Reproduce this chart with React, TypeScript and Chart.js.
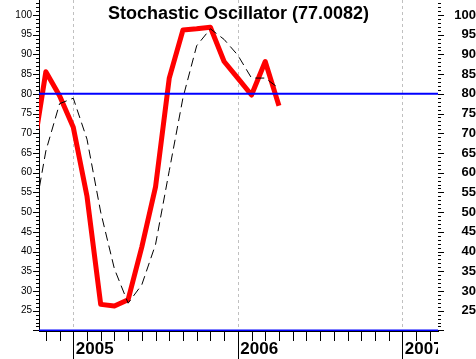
import React, { useEffect, useRef } from "react";
import { Chart, registerables } from "chart.js";

Chart.register(...registerables);

// ---- data ----
const months = [
  "2004-10", "2004-11", "2004-12", "2005-01", "2005-02", "2005-03", "2005-04",
  "2005-05", "2005-06", "2005-07", "2005-08", "2005-09", "2005-10", "2005-11",
  "2005-12", "2006-01", "2006-02", "2006-03", "2006-04",
];
const stochK = [63.6, 85.6, 79.5, 71.5, 54.0, 26.6, 26.2, 27.8, 41.2, 56.4, 84.0, 96.2, 96.5, 96.9, 88.2, 84.0, 79.7, 88.2, 77.0];
const stochD = [46.0, 65.5, 77.5, 78.9, 68.5, 50.0, 35.6, 26.9, 31.6, 41.8, 60.5, 79.0, 92.2, 96.5, 93.8, 89.8, 84.0, 84.0, 81.4];
const levelLines = [80, 20];
const yearLabels = ["2005", "2006", "2007"];
const titleText = "Stochastic Oscillator (77.0082)";

// axis ranges (months counted from Jan 2005)
const xMin = -2.5;
const xMax = 26.6;
const yMin = 19.85;
const yMax = 103.8;

const FONT = '"Liberation Sans", Arial, Helvetica, sans-serif';

const monthIndex = (s: string) => {
  const [y, m] = s.split("-").map(Number);
  return (y - 2005) * 12 + (m - 1);
};

const decorPlugin = {
  id: "decor",
  beforeDraw(chart: any) {
    const xs = chart.scales.x;
    if (xs && !xs.__clipPatched) {
      const orig = xs.drawLabels;
      xs.drawLabels = function (area: any) {
        const ctx = this.ctx;
        ctx.save();
        ctx.beginPath();
        ctx.rect(0, this.top, chart.chartArea.right, this.bottom - this.top);
        ctx.clip();
        orig.call(this, area);
        ctx.restore();
      };
      xs.__clipPatched = true;
    }
  },
  beforeDatasetsDraw(chart: any) {
    const { ctx, chartArea: a, scales } = chart;
    const x = scales.x;
    ctx.save();
    ctx.strokeStyle = "#c0c0c0";
    ctx.lineWidth = 1;
    ctx.setLineDash([3, 3]);
    x.ticks.forEach((t: any) => {
      const px = Math.round(x.getPixelForValue(t.value)) + 0.5;
      ctx.beginPath();
      ctx.moveTo(px, a.top);
      ctx.lineTo(px, a.bottom);
      ctx.stroke();
    });
    ctx.restore();
  },
  afterDraw(chart: any) {
    const { ctx, chartArea: a, scales } = chart;
    const x = scales.x;
    const y = scales.y;
    ctx.save();
    ctx.strokeStyle = "#000";
    ctx.lineWidth = 1;
    ctx.setLineDash([]);
    ctx.beginPath();
    for (let v = 20; v <= Math.floor(yMax); v++) {
      const py = Math.round(y.getPixelForValue(v)) + 0.5;
      const major = v % 5 === 0;
      ctx.moveTo(a.left - (major ? 6 : 3), py);
      ctx.lineTo(a.left, py);
      ctx.moveTo(a.right, py);
      ctx.lineTo(a.right + (major ? 6 : 3), py);
    }
    for (let m = Math.ceil(xMin); m <= Math.floor(xMax); m++) {
      const px = Math.round(x.getPixelForValue(m)) + 0.5;
      const major = m % 12 === 0;
      ctx.moveTo(px, a.bottom);
      ctx.lineTo(px, a.bottom + (major ? 28 : 10));
    }
    ctx.stroke();

    ctx.fillStyle = "#000";
    ctx.font = `bold 18px ${FONT}`;
    ctx.textAlign = "center";
    ctx.textBaseline = "alphabetic";
    ctx.fillText(titleText, (a.left + a.right) / 2, 19);
    ctx.restore();
  },
};

export default function App() {
  const ref = useRef<HTMLCanvasElement>(null);

  useEffect(() => {
    document.body.style.margin = "0";
    const kData = months.map((m, i) => ({ x: monthIndex(m), y: stochK[i] }));
    const dData = months.map((m, i) => ({ x: monthIndex(m), y: stochD[i] }));
    const levelSets = levelLines.map((lv) => ({
      label: `level ${lv}`,
      data: [
        { x: xMin, y: lv },
        { x: xMax, y: lv },
      ],
      borderColor: "#0000ff",
      borderWidth: 2,
      pointRadius: 0,
      clip: 0,
      order: 1,
    }));

    const chart = new Chart(ref.current as HTMLCanvasElement, {
      type: "line",
      data: {
        datasets: [
          {
            label: "%K",
            data: kData,
            borderColor: "#ff0000",
            borderWidth: 5,
            borderJoinStyle: "round",
            pointRadius: 0,
            tension: 0,
            clip: 0,
            order: 3,
          } as any,
          {
            label: "%D",
            data: dData,
            borderColor: "#000000",
            borderWidth: 1,
            borderDash: [9, 5],
            pointRadius: 0,
            tension: 0,
            clip: 0,
            order: 2,
          } as any,
          ...levelSets,
        ],
      },
      options: {
        responsive: false,
        animation: false,
        devicePixelRatio: 1,
        layout: { padding: 0, autoPadding: false } as any,
        plugins: {
          legend: { display: false },
          tooltip: { enabled: false },
          title: { display: false },
        },
        scales: {
          x: {
            type: "linear",
            position: "bottom",
            min: xMin,
            max: xMax,
            grid: { display: false, drawTicks: false },
            border: { display: true, color: "#000", width: 1 },
            ticks: {
              stepSize: 12,
              includeBounds: false,
              autoSkip: false,
              maxRotation: 0,
              minRotation: 0,
              align: "start",
              labelOffset: 2.5,
              padding: 8,
              color: "#000",
              font: { family: FONT, size: 17, weight: "bold" },
              callback: (v: any) => yearLabels[Math.round(Number(v) / 12)] ?? "",
            },
            afterFit: (s: any) => {
              s.height = 28;
              s.paddingLeft = 0;
              s.paddingRight = 0;
            },
          } as any,
          y: {
            type: "linear",
            position: "left",
            min: yMin,
            max: yMax,
            grid: { display: false, drawTicks: false },
            border: { display: true, color: "#000", width: 1 },
            ticks: {
              stepSize: 5,
              includeBounds: false,
              autoSkip: false,
              padding: 7,
              color: "#000",
              font: { family: FONT, size: 10 },
              callback: (v: any) => (Number(v) === 20 ? "" : String(v)),
            },
            afterFit: (s: any) => {
              s.width = 39;
              s.paddingTop = 0;
              s.paddingBottom = 0;
            },
          } as any,
          y2: {
            type: "linear",
            position: "right",
            min: yMin,
            max: yMax,
            grid: { display: false, drawTicks: false },
            border: { display: false },
            ticks: {
              stepSize: 5,
              includeBounds: false,
              autoSkip: false,
              crossAlign: "far",
              padding: 8,
              color: "#000",
              font: { family: FONT, size: 13, weight: "bold" },
              callback: (v: any) => (Number(v) === 20 ? "" : String(v)),
            },
            afterFit: (s: any) => {
              s.width = 38;
              s.paddingTop = 0;
              s.paddingBottom = 0;
            },
          } as any,
        },
      },
      plugins: [decorPlugin as any],
    });
    return () => chart.destroy();
  }, []);

  return (
    <div style={{ position: "absolute", left: 0, top: 0, width: 476, height: 359 }}>
      <canvas ref={ref} width={476} height={359} style={{ display: "block" }} />
    </div>
  );
}
